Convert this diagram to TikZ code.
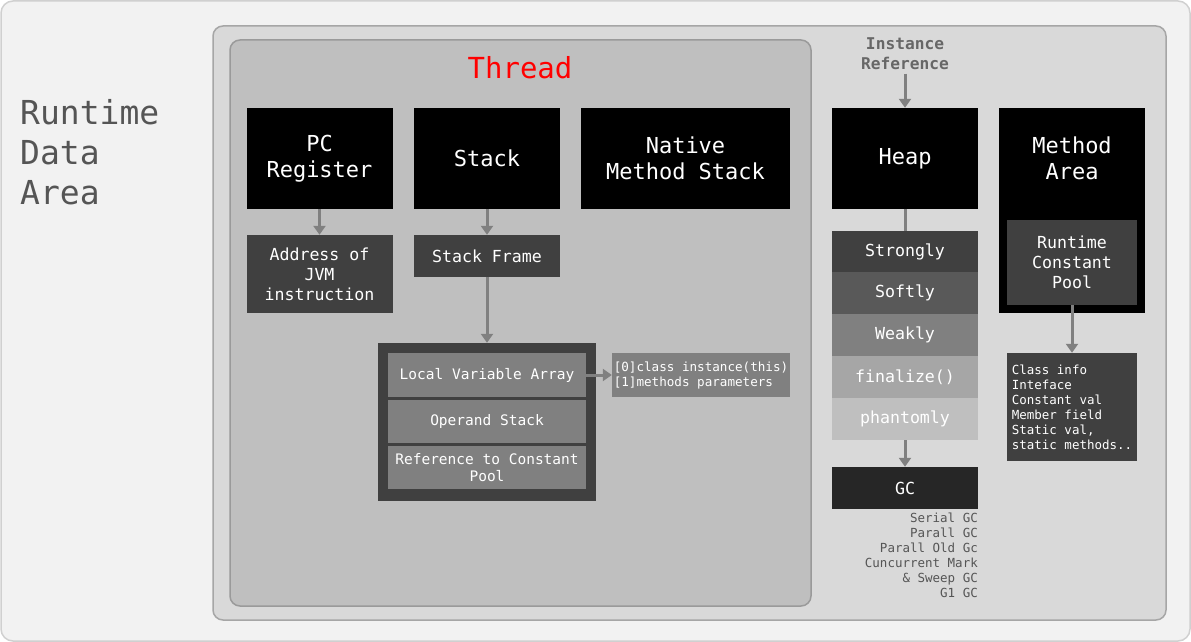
\documentclass[tikz,border=0pt]{standalone}
\usepackage{fontspec}
\setmainfont{DejaVu Sans Mono}
\usetikzlibrary{arrows.meta,positioning}
\definecolor{areabg}{HTML}{F2F2F2}
\definecolor{arealine}{HTML}{D0D0D0}
\definecolor{jvmbg}{HTML}{D9D9D9}
\definecolor{jvmline}{HTML}{A6A6A6}
\definecolor{threadbg}{HTML}{BFBFBF}
\definecolor{threadline}{HTML}{9A9A9A}
\definecolor{darkbox}{HTML}{404040}
\definecolor{softbox}{HTML}{595959}
\definecolor{midbox}{HTML}{808080}
\definecolor{lightbox}{HTML}{A6A6A6}
\definecolor{labelgray}{HTML}{555555}
\newcommand{\fs}[2]{\fontsize{#1}{#2}\selectfont}
\begin{document}
\begin{tikzpicture}[x=1pt, y=-1pt,
    box/.style={inner sep=0pt, align=center, text=white},
    areabox/.style={box, fill=black, minimum width=146pt, minimum height=101pt, font=\fs{22}{26}},
    subbox/.style={box, fill=darkbox, font=\fs{16.6}{20}},
    rowbox/.style={box, fill=midbox, minimum width=198pt, font=\fs{14.5}{17}},
    refbox/.style={box, minimum width=146pt, minimum height=42pt, font=\fs{16.6}{20}},
    link/.style={draw=midbox, line width=3pt},
    arr/.style={link, -{Triangle[width=12pt,length=9pt]}}]
    \useasboundingbox (0,0) rectangle (1191,642);
    % background layers
    \draw[fill=areabg, draw=arealine, line width=1.5pt, rounded corners=12pt] (1,1) rectangle (1190,641);
    \draw[fill=jvmbg, draw=jvmline, line width=1.5pt, rounded corners=10pt] (213,26) rectangle (1166,620);
    \draw[fill=threadbg, draw=threadline, line width=1.5pt, rounded corners=10pt] (230,40) rectangle (811,606);
    \node[anchor=west, align=left, text=labelgray, inner sep=0pt, font=\fs{33}{40}] (rda) at (20,152) {Runtime\\Data\\Area};
    \node[text=red, font=\fs{29}{34}] (thread) at (520,68) {Thread};
    % thread areas
    \node[areabox] (pc) at (319.5,158.5) {PC\\Register};
    \node[areabox] (stack) at (487,158.5) {Stack};
    \node[areabox, minimum width=209pt] (native) at (685.5,158.5) {Native\\Method Stack};
    \node[subbox, minimum width=146pt, minimum height=78pt] (addr) at (319.5,274) {Address of\\JVM\\instruction};
    \node[subbox, minimum width=146pt, minimum height=42pt] (frame) at (487,256) {Stack Frame};
    \node[box, fill=darkbox, minimum width=218pt, minimum height=158pt] (framebody) at (487,422) {};
    \node[rowbox, minimum height=44pt] (lva) at (487,375) {Local Variable Array};
    \node[rowbox, minimum height=43pt] (opstack) at (487,421.5) {Operand Stack};
    \node[rowbox, minimum height=43pt] (cpref) at (487,467.5) {Reference to Constant\\Pool};
    \node[box, fill=midbox, minimum width=178pt, minimum height=44pt, align=left, font=\fs{12.6}{15}] (params) at (701,375) {[0]class instance(this)\\{}[1]methods parameters};
    \draw[arr] (pc) -- (addr);
    \draw[arr] (stack) -- (frame);
    \draw[arr] (frame) -- (framebody);
    \draw[arr] (lva) -- (params);
    % heap
    \node[text=midbox!80!black, align=center, font=\bfseries\fs{16.2}{20}] (instref) at (905,54) {Instance\\Reference};
    \node[areabox] (heap) at (905,158.5) {Heap};
    \node[refbox, fill=darkbox, minimum height=41pt] (strong) at (905,251.5) {Strongly};
    \node[refbox, fill=softbox] (soft) at (905,293) {Softly};
    \node[refbox, fill=midbox] (weak) at (905,335) {Weakly};
    \node[refbox, fill=lightbox] (final) at (905,377) {finalize()};
    \node[refbox, fill=threadbg] (phantom) at (905,419) {phantomly};
    \node[refbox, fill=black!85] (gc) at (905,488) {GC};
    \node[anchor=north east, align=right, inner sep=0pt, text=labelgray, font=\fs{12.5}{15}] (gclist) at (978,513) {Serial GC\\Parall GC\\Parall Old Gc\\Cuncurrent Mark\\\& Sweep GC\\G1 GC};
    \draw[arr] (instref) -- (heap);
    \draw[link] (heap) -- (strong);
    \draw[arr] (phantom) -- (gc);
    % method area
    \node[box, fill=black, minimum width=146pt, minimum height=205pt] (marea) at (1072,210.5) {};
    \node[box, font=\fs{22}{26}] (mareatxt) at (1072,158) {Method\\Area};
    \node[subbox, minimum width=130pt, minimum height=85pt] (rcp) at (1072,262.5) {Runtime\\Constant\\Pool};
    \node[box, fill=darkbox, minimum width=130pt, minimum height=108pt, align=left, font=\fs{12.5}{15}] (minfo) at (1072,407) {Class info\\Inteface\\Constant val\\Member field\\Static val,\\static methods..};
    \draw[arr] (rcp) -- (minfo);
\end{tikzpicture}
\end{document}
